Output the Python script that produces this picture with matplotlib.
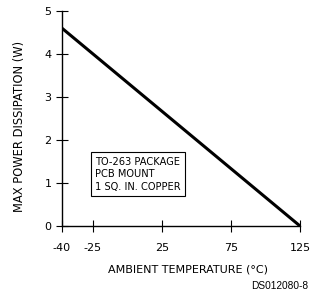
import matplotlib
matplotlib.use("Agg")
import matplotlib.pyplot as plt
import numpy as np

# derating curve
temps = [-40, 125]
power = [4.6, 0]

x_ticks = [-40, -25, 25, 75, 125]
x_labels = ["-40", "-25", "25", "75", "125"]
y_ticks = [0, 1, 2, 3, 4, 5]

note = "TO-263 PACKAGE\nPCB MOUNT\n1 SQ. IN. COPPER"

# the drawing's x axis is squeezed between -40 and -25
def fwd(x):
    x = np.asarray(x, dtype=float)
    return np.where(x < -25, 31 + (x + 25) * 31 / 15, 31 + (x + 25) * 1.38)

def inv(p):
    p = np.asarray(p, dtype=float)
    return np.where(p < 31, (p - 31) * 15 / 31 - 25, (p - 31) / 1.38 - 25)

W, H = 310, 294
fig = plt.figure(figsize=(W / 100, H / 100), dpi=100)
ax = fig.add_axes([62 / W, (H - 226) / H, (300 - 62) / W, (226 - 11) / H])

ax.plot(temps, power, color="black", linewidth=2.2, solid_capstyle="butt")

ax.set_xscale("function", functions=(fwd, inv))
ax.set_xlim(-40, 125)
ax.set_ylim(0, 5)
ax.set_xticks(x_ticks)
ax.set_xticklabels(x_labels)
ax.set_yticks(y_ticks)
ax.minorticks_off()

for s in ["top", "right"]:
    ax.spines[s].set_visible(False)
for s in ["left", "bottom"]:
    ax.spines[s].set_linewidth(1.0)

ax.tick_params(axis="both", direction="inout", length=9, width=0.8,
               labelsize=8, colors="black")
ax.tick_params(axis="x", pad=8)
ax.tick_params(axis="y", pad=3)

ax.text(0.14, 0.16, note, transform=ax.transAxes, fontsize=7.1,
        va="bottom", ha="left", linespacing=1.3,
        bbox=dict(boxstyle="square,pad=0.45", facecolor="white",
                  edgecolor="black", linewidth=0.8))

fig.text(188 / W, 1 - 270 / H, "AMBIENT TEMPERATURE (\u00b0C)", ha="center",
         va="center", fontsize=8)
fig.text(20 / W, 1 - 126 / H, "MAX POWER DISSIPATION (W)", ha="center",
         va="center", rotation=90, fontsize=8.3)
fig.text(308 / W, 1 - 286 / H, "DS012080-8", ha="right", va="center",
         fontsize=7.3, family="Liberation Sans")

fig.savefig("out.png", dpi=100)
